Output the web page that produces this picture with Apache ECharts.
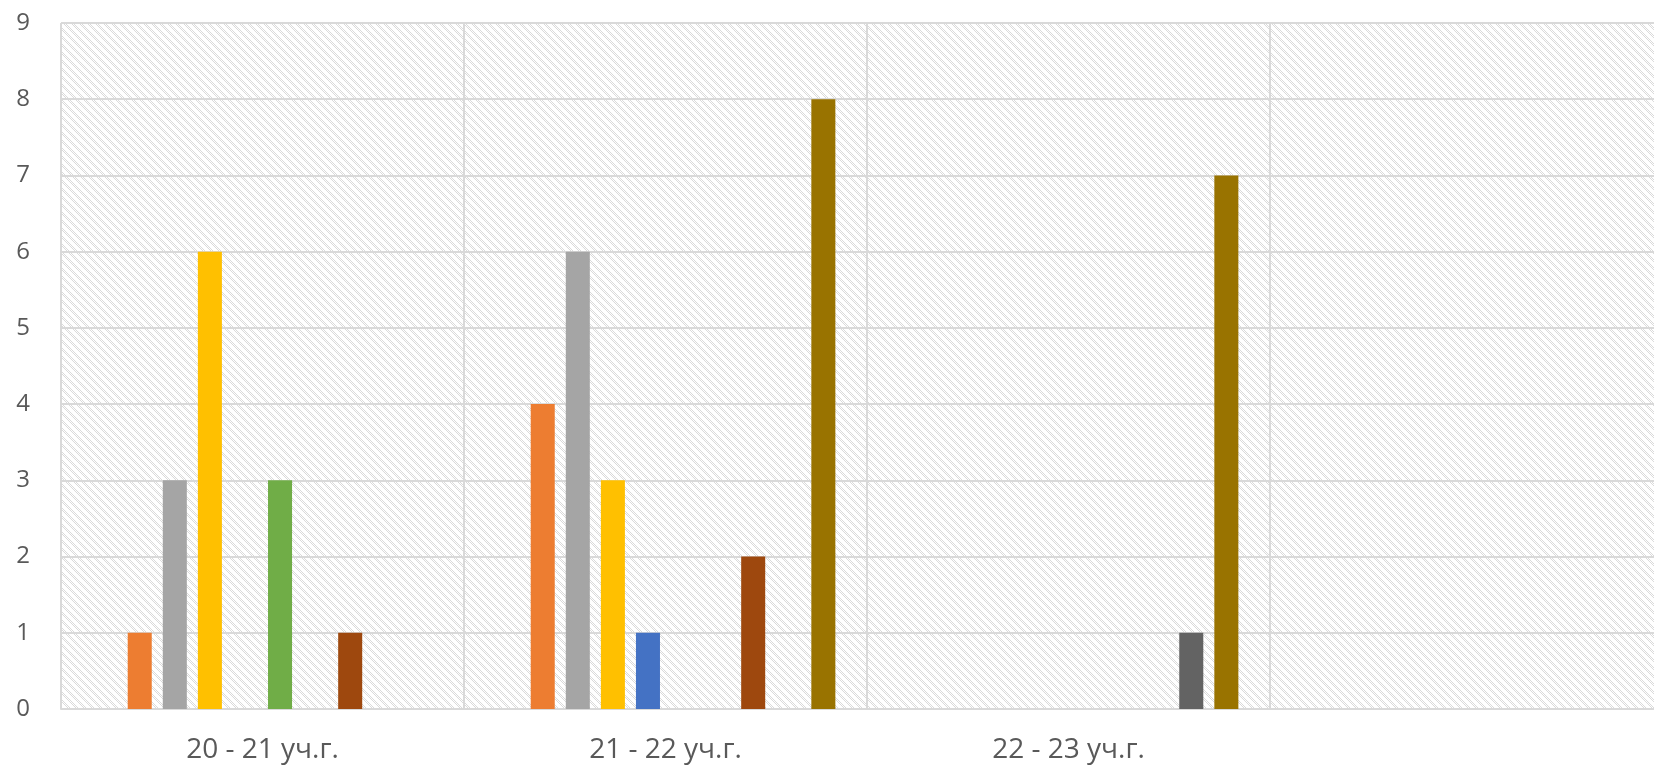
<!DOCTYPE html>
<html>
<head>
<meta charset="utf-8">
<script src="https://cdn.jsdelivr.net/npm/echarts@6/dist/echarts.min.js"></script>
<style>
html,body{margin:0;padding:0;background:#fff;}
#chart{width:1654px;height:768px;}
</style>
</head>
<body>
<div id="chart"></div>
<script>
const categories = ['20 - 21 уч.г.', '21 - 22 уч.г.', '22 - 23 уч.г.', ''];
const yTicks = [0, 1, 2, 3, 4, 5, 6, 7, 8, 9];
const seriesNames = ['Ряд 1','Ряд 2','Ряд 3','Ряд 4','Ряд 5','Ряд 6','Ряд 7','Ряд 8','Ряд 9','Ряд 10'];
const s1 = [null, null, null, null];
const s2 = [1, 4, null, null];
const s3 = [3, 6, null, null];
const s4 = [6, 3, null, null];
const s5 = [null, 1, null, null];
const s6 = [3, null, null, null];
const s7 = [null, null, null, null];
const s8 = [1, 2, null, null];
const s9 = [null, null, 1, null];
const s10 = [null, 8, 7, null];
const seriesValues = [s1, s2, s3, s4, s5, s6, s7, s8, s9, s10];
const colors = ['#5B9BD5','#ED7D31','#A5A5A5','#FFC000','#4472C4','#70AD47','#264478','#9E480E','#636363','#997300'];

// hatch pattern (Excel-like wide downward diagonal)
const pc = document.createElement('canvas');
pc.width = 8; pc.height = 8;
const pctx = pc.getContext('2d');
const img = pctx.createImageData(8, 8);
for (let y = 0; y < 8; y++) {
  for (let x = 0; x < 8; x++) {
    const i = (y * 8 + x) * 4;
    const d = ((x - y) % 8 + 8) % 8;
    const on = (d < 4) && ((x + y) % 2 === 0);
    const v = on ? 218 : 255;
    img.data[i] = v; img.data[i+1] = v; img.data[i+2] = v; img.data[i+3] = 255;
  }
}
pctx.putImageData(img, 0, 0);

const chart = echarts.init(document.getElementById('chart'), null, {renderer: 'canvas'});
const fontFam = '"Open Sans", "Noto Sans", sans-serif';
chart.setOption({
  animation: false,
  grid: {
    left: 61, top: 23, width: 1612, height: 686,
    show: true,
    backgroundColor: {image: pc, repeat: 'repeat'},
    borderWidth: 0,
    containLabel: false,
    outerBoundsMode: 'none'
  },
  xAxis: {
    type: 'category',
    data: categories,
    boundaryGap: true,
    axisLine: {show: true, lineStyle: {color: '#d9d9d9', width: 2}},
    axisTick: {show: false},
    splitLine: {show: true, lineStyle: {color: '#d9d9d9', width: 2}},
    axisLabel: {color: '#595959', fontSize: 28, fontFamily: fontFam, margin: 27, interval: 0}
  },
  yAxis: {
    type: 'value',
    min: yTicks[0], max: yTicks[yTicks.length - 1], interval: 1,
    axisLine: {show: false},
    axisTick: {show: false},
    splitLine: {show: true, lineStyle: {color: '#d9d9d9', width: 2}},
    axisLabel: {color: '#595959', fontSize: 24, fontFamily: fontFam, margin: 31}
  },
  series: seriesValues.map((vals, k) => ({
    name: seriesNames[k],
    type: 'bar',
    data: vals,
    barGap: '46%',
    barCategoryGap: '15.7%',
    itemStyle: {color: colors[k]}
  }))
});
</script>
</body>
</html>
